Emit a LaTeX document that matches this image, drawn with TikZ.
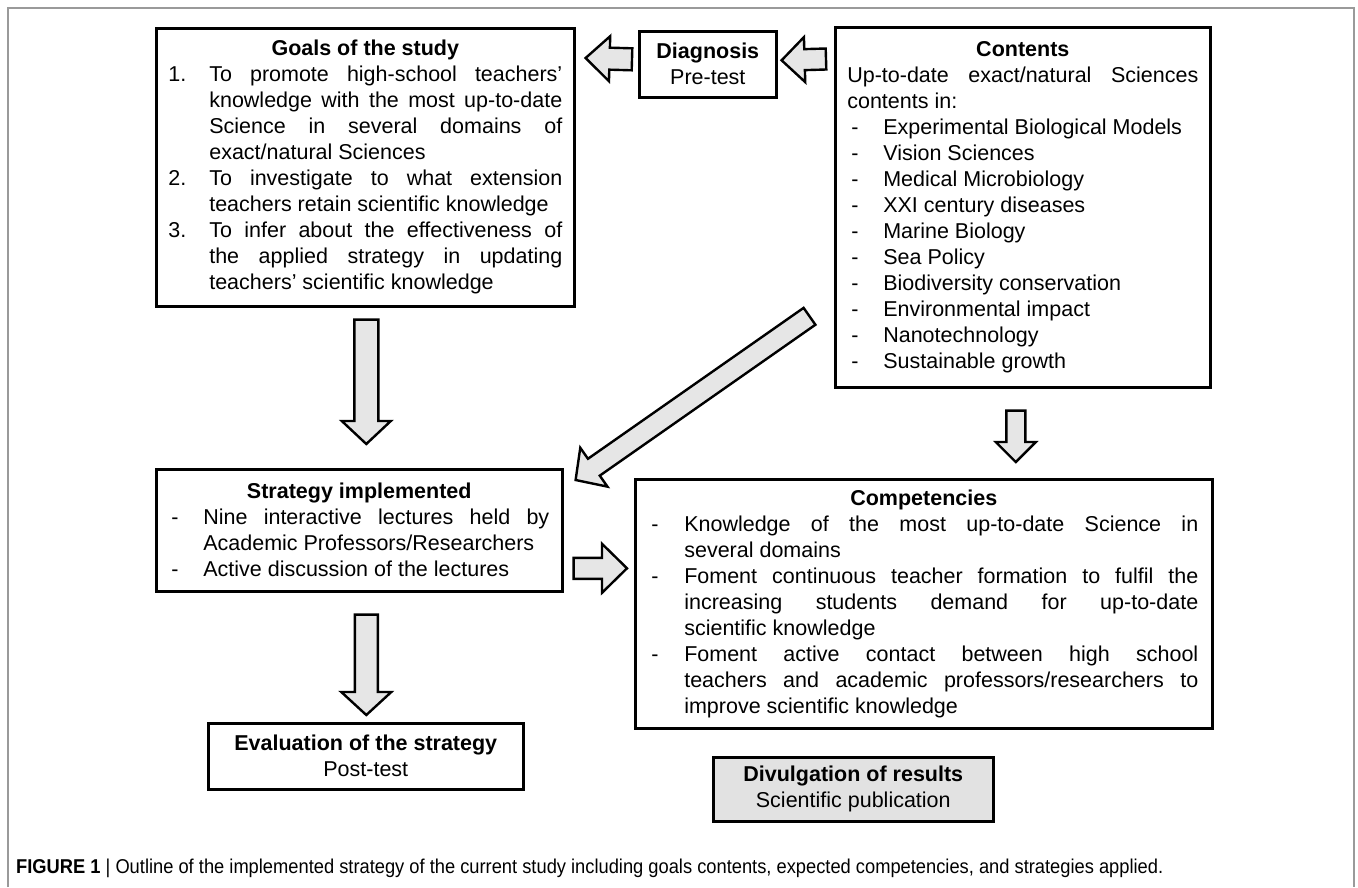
\documentclass[tikz,border=0pt]{standalone}
\usepackage{fontspec}
\setmainfont{Liberation Sans}
\newfontfamily\capfont[FakeStretch=0.915]{Liberation Sans}
\usetikzlibrary{calc}
\definecolor{arrowfill}{HTML}{E6E6E6}
\definecolor{boxfill}{HTML}{E2E2E2}
\definecolor{framegray}{HTML}{9A9A9A}
\setlength{\parindent}{0pt}
\setlength{\parskip}{0pt}
\newcommand{\hitem}[3]{\par\noindent\hangindent=#1\hangafter=1\makebox[#1][l]{#2}#3\par}
\newcommand{\blockarrow}[5]{%
  \coordinate (ba-h) at ($(#2)!#5!(#1)$);
  \draw[blockarr] ($(#1)!#3!90:(#2)$) -- ($(ba-h)!#3!90:(#2)$) -- ($(ba-h)!#4!90:(#2)$)
    -- (#2) -- ($(ba-h)!#4!-90:(#2)$) -- ($(ba-h)!#3!-90:(#2)$) -- ($(#1)!#3!-90:(#2)$) -- cycle;}
\begin{document}
\begin{tikzpicture}[x=1pt,y=-1pt,
  box/.style={draw, line width=2.6pt, anchor=north west, inner ysep=0pt,
    font=\fontsize{21.5}{26}\selectfont, align=justify},
  cbox/.style={box, align=center, inner xsep=0pt},
  blockarr/.style={draw, line width=2.4pt, fill=arrowfill, line join=miter}]
\useasboundingbox (0,0) rectangle (1358,887);
\draw[framegray, line width=2pt] (8,887) -- (8,8) -- (1354,8) -- (1354,887);

\node[box, inner xsep=12pt, text width=394pt, minimum height=278pt] (goals) at (155,27) {%
{\centering\bfseries Goals of the study\par}
\hitem{41pt}{1.}{To promote high-school teachers'\linebreak knowledge with the most up-to-date\linebreak Science in several domains of\linebreak exact/natural Sciences}
\hitem{41pt}{2.}{To investigate to what extension\linebreak teachers retain scientific knowledge}
\hitem{41pt}{3.}{To infer about the effectiveness of\linebreak the applied strategy in updating\linebreak teachers' scientific knowledge}};

\node[cbox, minimum width=137pt, minimum height=66pt] (diag) at (638,30) {\textbf{Diagnosis}\\Pre-test};

\node[box, inner xsep=12pt, text width=351pt, minimum height=360pt] (contents) at (834,26) {%
{\centering\bfseries Contents\par}
Up-to-date exact/natural Sciences\linebreak contents in:\par
\hitem{36pt}{\hspace*{4pt}-}{Experimental Biological Models}
\hitem{36pt}{\hspace*{4pt}-}{Vision Sciences}
\hitem{36pt}{\hspace*{4pt}-}{Medical Microbiology}
\hitem{36pt}{\hspace*{4pt}-}{XXI century diseases}
\hitem{36pt}{\hspace*{4pt}-}{Marine Biology}
\hitem{36pt}{\hspace*{4pt}-}{Sea Policy}
\hitem{36pt}{\hspace*{4pt}-}{Biodiversity conservation}
\hitem{36pt}{\hspace*{4pt}-}{Environmental impact}
\hitem{36pt}{\hspace*{4pt}-}{Nanotechnology}
\hitem{36pt}{\hspace*{4pt}-}{Sustainable growth}};

\node[box, inner xsep=13pt, text width=380pt, minimum height=122pt] (strategy) at (155,468) {%
{\centering\bfseries Strategy implemented\par}
\hitem{34pt}{\hspace*{2pt}-}{Nine interactive lectures held by\linebreak Academic Professors/Researchers}
\hitem{34pt}{\hspace*{2pt}-}{Active discussion of the lectures}};

\node[cbox, minimum width=315pt, minimum height=66pt] (eval) at (207,722) {\textbf{Evaluation of the strategy}\\Post-test};

\node[box, inner xsep=14pt, text width=549pt, minimum height=249pt] (comp) at (634,478) {%
{\centering\bfseries Competencies\par}
\hitem{35pt}{\hspace*{2pt}-}{Knowledge of the most up-to-date Science in\linebreak several domains}
\hitem{35pt}{\hspace*{2pt}-}{Foment continuous teacher formation to fulfil the\linebreak increasing students demand for up-to-date\linebreak scientific knowledge}
\hitem{35pt}{\hspace*{2pt}-}{Foment active contact between high school\linebreak teachers and academic professors/researchers to\linebreak improve scientific knowledge}};

\node[cbox, fill=boxfill, minimum width=280pt, minimum height=64pt] (divul) at (712,756) {\textbf{Divulgation of results}\\Scientific publication};

% block arrows
\coordinate (a1s) at ($(diag.west)+(-6,-5)$);
\coordinate (a1e) at ($(goals.north east)+(10,31)$);
\blockarrow{a1s}{a1e}{11pt}{22.5pt}{24pt}
\coordinate (a2s) at ($(contents.north west)+(-8,33)$);
\coordinate (a2e) at ($(diag.east)+(4,-4)$);
\blockarrow{a2s}{a2e}{10.5pt}{22.5pt}{23pt}
\coordinate (a3s) at ($(goals.south)+(1,12)$);
\coordinate (a3e) at ($(strategy.north)+(7,-24)$);
\blockarrow{a3s}{a3e}{12pt}{24.5pt}{23pt}
\coordinate (a4s) at ($(strategy.south)+(7,22)$);
\coordinate (a4e) at ($(eval.north)+(0.5,-7)$);
\blockarrow{a4s}{a4e}{11.5pt}{25pt}{23pt}
\coordinate (a5s) at ($(contents.south)+(-7,22)$);
\coordinate (a5e) at ($(comp.north)+(92,-16)$);
\blockarrow{a5s}{a5e}{9.5pt}{20pt}{20pt}
\coordinate (a6s) at ($(strategy.east)+(10,38)$);
\coordinate (a6e) at ($(comp.west)+(-7,-35.5)$);
\blockarrow{a6s}{a6e}{10.5pt}{24.5pt}{25pt}
\coordinate (a7s) at ($(contents.west)+(-24.5,109)$);
\coordinate (a7e) at ($(strategy.north east)+(12,12)$);
\blockarrow{a7s}{a7e}{10.3pt}{23.7pt}{22.3pt}

\node[anchor=base west, inner sep=0pt, font=\capfont\fontsize{20}{22}\selectfont] (cap) at (16,873)
  {\textbf{FIGURE 1} | Outline of the implemented strategy of the current study including goals contents, expected competencies, and strategies applied.};
\end{tikzpicture}
\end{document}
